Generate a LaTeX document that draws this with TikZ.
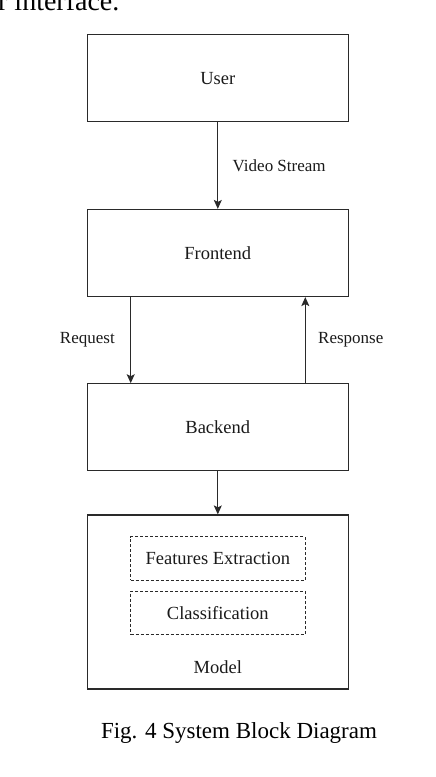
\documentclass[tikz,border=0pt]{standalone}
\usepackage{fontspec}
\setmainfont{Liberation Serif}
\usetikzlibrary{arrows.meta, positioning}
\definecolor{diaLine}{HTML}{2A2A2A}
\definecolor{diaText}{HTML}{1A1A1A}
\tikzset{
  % one picture unit is one pixel of the reference, y runs downwards
  every picture/.append style = {line width=1.2pt, >={Stealth[length=9pt, width=8pt, inset=2pt]}},
  flow/.style   = {->, diaLine, line width=1.2pt},
  lbl/.style    = {font=\fontsize{17}{19}\selectfont, text=diaText},
  blktxt/.style = {font=\fontsize{18.5}{20}\selectfont, text=diaText},
  capt/.style   = {font=\fontsize{23}{26}\selectfont, text=black},
}

\begin{document}
\begin{tikzpicture}[
  x=1pt, y=-1pt,
  blk/.style  = {draw=diaLine, line width=1.2pt, minimum width=261pt, minimum height=87pt,
                 blktxt, align=center, inner sep=0pt},
  sub/.style  = {draw=diaLine, line width=1pt, dash pattern=on 3pt off 2pt,
                 minimum width=174.5pt, minimum height=43.5pt, blktxt, inner sep=0pt},
]
\useasboundingbox (0,0) rectangle (436,777);
\clip (0,0) rectangle (436,777);

% ---- end of the text above the figure -----------------------------------
\node[anchor=base east, capt, font=\fontsize{28}{30}\selectfont, inner sep=0pt] (prev) at (120,10) {r interface.};

% ---- blocks --------------------------------------------------------------
\node[blk] (user)     at (217.8,78.3)  {User};
\node[blk] (frontend) at (217.8,253)   {Frontend};
\node[blk] (backend)  at (217.8,427.3) {Backend};
\node[blk, minimum height=174pt] (model) at (217.8,602) {};
\node[sub] (feat) at (217.8,558.7) {Features Extraction};
\node[sub] (cls)  at (217.8,612.8) {Classification};
\node[blktxt] (modeltxt) at (217.8,667) {Model};

% ---- connectors ----------------------------------------------------------
\draw[flow] (user) -- (frontend)
  node[midway, right=11pt, lbl] (vidlbl) {Video Stream};
\draw[flow] ([xshift=-87.1pt]frontend.south) -- ([xshift=-87.1pt]backend.north)
  node[midway, left=12pt, lbl] (reqlbl) {Request};
\draw[flow] ([xshift=87.5pt]backend.north) -- ([xshift=87.5pt]frontend.south)
  node[midway, right=9pt, lbl] (reslbl) {Response};
\draw[flow] (backend) -- (model);

% ---- caption -------------------------------------------------------------
\node[capt, anchor=base] (caption) at (239,738) {Fig. 4 System Block Diagram};
\end{tikzpicture}
\end{document}
